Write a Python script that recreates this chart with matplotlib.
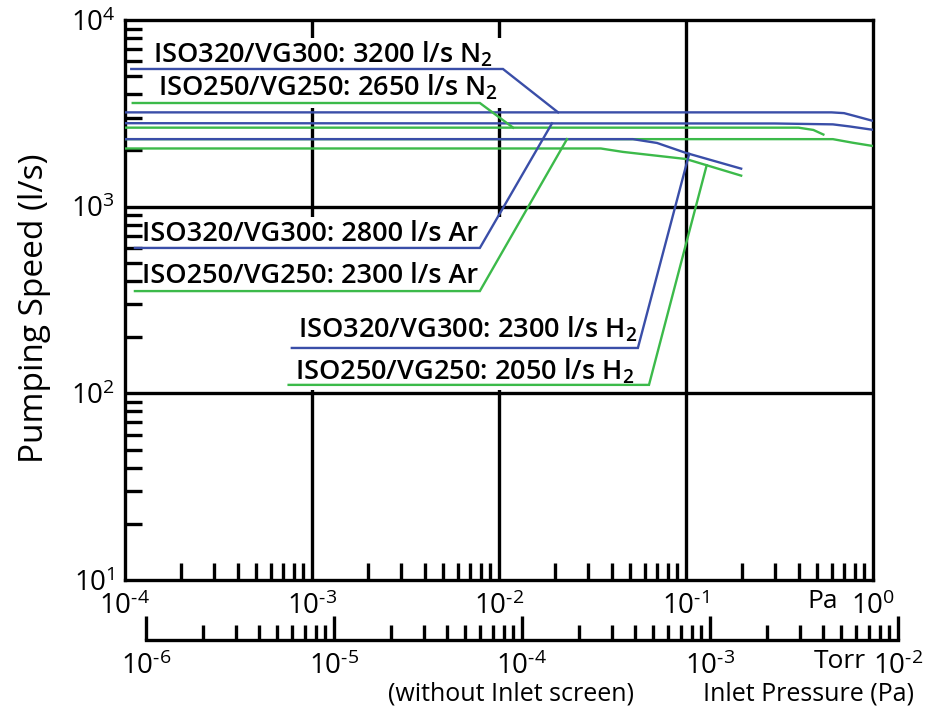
import numpy as np
import matplotlib
matplotlib.use('Agg')
import matplotlib.pyplot as plt
from matplotlib.patches import Rectangle

plt.rcParams['font.family'] = ['Open Sans', 'DejaVu Sans']
plt.rcParams['mathtext.fontset'] = 'custom'
plt.rcParams['mathtext.rm'] = 'Open Sans'
plt.rcParams['mathtext.it'] = 'Open Sans'
plt.rcParams['mathtext.bf'] = 'Open Sans:semibold'
plt.rcParams['mathtext.default'] = 'regular'

HY = '\u2010'

# ---------------- data ----------------
pa_ticks = [1e-4, 1e-3, 1e-2, 1e-1, 1e0]
pa_tick_labels = ['$10^{' + HY + '4}$', '$10^{' + HY + '3}$', '$10^{' + HY + '2}$',
                  '$10^{' + HY + '1}$', '$10^{0}$']
torr_ticks = [1e-6, 1e-5, 1e-4, 1e-3, 1e-2]
torr_tick_labels = ['$10^{' + HY + '6}$', '$10^{' + HY + '5}$', '$10^{' + HY + '4}$',
                    '$10^{' + HY + '3}$', '$10^{' + HY + '2}$']
speed_ticks = [1e1, 1e2, 1e3, 1e4]
speed_tick_labels = ['$10^{1}$', '$10^{2}$', '$10^{3}$', '$10^{4}$']

labels = ['ISO320/VG300: 3200 l/s N$_\\mathbf{2}$',
          'ISO250/VG250: 2650 l/s N$_\\mathbf{2}$',
          'ISO320/VG300: 2800 l/s Ar',
          'ISO250/VG250: 2300 l/s Ar',
          'ISO320/VG300: 2300 l/s H$_\\mathbf{2}$',
          'ISO250/VG250: 2050 l/s H$_\\mathbf{2}$']

p_n2_320 = [1e-4, 0.60, 0.70, 0.80, 1.0]
s_n2_320 = [3200, 3200, 3170, 3060, 2880]
p_n2_250 = [1e-4, 0.40, 0.48, 0.55]
s_n2_250 = [2650, 2650, 2576, 2420]
p_ar_320 = [1e-4, 0.30, 0.48, 0.61, 0.75, 1.0]
s_ar_320 = [2800, 2790, 2770, 2760, 2690, 2580]
p_ar_250 = [1e-4, 0.61, 0.78, 1.0]
s_ar_250 = [2300, 2300, 2200, 2113]
p_h2_320 = [1e-4, 0.052, 0.070, 0.10, 0.20]
s_h2_320 = [2300, 2300, 2194, 1940, 1592]
p_h2_250 = [1e-4, 0.035, 0.046, 0.10, 0.20]
s_h2_250 = [2050, 2050, 1965, 1800, 1460]

curves_p = [p_n2_320, p_n2_250, p_ar_320, p_ar_250, p_h2_320, p_h2_250]
curves_s = [s_n2_320, s_n2_250, s_ar_320, s_ar_250, s_h2_320, s_h2_250]

# ---------------- layout ----------------
blue = '#3a4ea8'
green = '#3cba4a'
colors = [blue, green, blue, green, blue, green]
text_pos = [(1.41e-4, 5888), (1.50e-4, 3963), (1.23e-4, 655),
            (1.23e-4, 390), (8.41e-4, 198), (8.1e-4, 118)]
lead_level = [5465, 3592, 601, 353, 175, 111]
lead_start = [1.08e-4, 1.10e-4, 1.13e-4, 1.13e-4, 7.8e-4, 7.5e-4]
lead_corner = [1.05e-2, 7.9e-3, 7.9e-3, 7.9e-3, 0.0553, 0.0634]
lead_join = [0.0207, 0.0119, 0.0192, 0.0231, 0.104, 0.129]
masks = [(1.2e-4, 0.0115, 3380, 8010), (1.1e-4, 0.0683, 104, 881)]

fig = plt.figure(figsize=(9.28, 7.09), dpi=100)
fig.patch.set_facecolor('white')
W, H = 928, 709
ax = fig.add_axes([125 / W, (H - 580) / H, 748 / W, 560 / H])
ax.set_xscale('log')
ax.set_yscale('log')
ax.set_xlim(pa_ticks[0], pa_ticks[-1])
ax.set_ylim(speed_ticks[0], speed_ticks[-1])
ax.set_axisbelow(False)

for p in pa_ticks[1:-1]:
    ax.axvline(p, color='black', lw=2.4, zorder=1)
for s in speed_ticks[1:-1]:
    ax.axhline(s, color='black', lw=2.4, zorder=2.2)

for (p0, p1, s0, s1) in masks:
    ax.add_patch(Rectangle((p0, s0), p1 - p0, s1 - s0, facecolor='white',
                           edgecolor='none', zorder=1.5))

for px, sx, c in zip(curves_p, curves_s, colors):
    ax.plot(px, sx, color=c, lw=1.7, zorder=3, solid_capstyle='butt')

for i in range(6):
    lp = np.log10(curves_p[i])
    ls = np.log10(curves_s[i])
    sj = 10 ** np.interp(np.log10(lead_join[i]), lp, ls)
    ax.plot([lead_start[i], lead_corner[i], lead_join[i]],
            [lead_level[i], lead_level[i], sj], color=colors[i], lw=1.7,
            zorder=3, solid_joinstyle='miter')
    ax.text(text_pos[i][0], text_pos[i][1], labels[i], fontsize=19.5,
            ha='left', va='baseline', color='black', zorder=2.6, fontweight='semibold')

for sp in ax.spines.values():
    sp.set_linewidth(2.4)
    sp.set_color('black')

ax.set_xticks(pa_ticks, pa_tick_labels)
ax.set_yticks(speed_ticks, speed_tick_labels)
ax.tick_params(axis='both', which='major', length=0, labelsize=20)
ax.tick_params(axis='x', which='major', pad=9)
ax.tick_params(axis='y', which='major', pad=7)
ax.tick_params(axis='both', which='minor', direction='in', length=12, width=2.4,
               color='black')
ax.xaxis.set_minor_formatter(matplotlib.ticker.NullFormatter())
ax.yaxis.set_minor_formatter(matplotlib.ticker.NullFormatter())
ax.xaxis.set_minor_locator(matplotlib.ticker.LogLocator(base=10, subs=np.arange(2, 10), numticks=20))
ax.yaxis.set_minor_locator(matplotlib.ticker.LogLocator(base=10, subs=np.arange(2, 10), numticks=20))

ax.text((823 - 125) / 748, (580 - 602) / 560, 'Pa', transform=ax.transAxes,
        ha='center', va='center', fontsize=19)

# Torr axis
ax2 = fig.add_axes([146 / W, (H - 640) / H, 752 / W, 0.0001])
ax2.set_xscale('log')
ax2.set_xlim(torr_ticks[0], torr_ticks[-1])
ax2.patch.set_visible(False)
for k in ['top', 'left', 'right']:
    ax2.spines[k].set_visible(False)
ax2.spines['bottom'].set_linewidth(2.4)
ax2.set_yticks([])
ax2.set_xticks(torr_ticks, torr_tick_labels)
ax2.xaxis.set_minor_locator(matplotlib.ticker.LogLocator(base=10, subs=np.arange(2, 10), numticks=20))
ax2.xaxis.set_minor_formatter(matplotlib.ticker.NullFormatter())
ax2.tick_params(axis='x', which='major', direction='in', length=17, width=2.4,
                labelsize=20, pad=9)
ax2.tick_params(axis='x', which='minor', direction='in', length=11, width=2.4)

fig.text(840 / W, 1 - 662 / H, 'Torr', ha='center', va='center', fontsize=19)
fig.text(511 / W, 1 - 694 / H, '(without Inlet screen)', ha='center', va='center', fontsize=18)
fig.text(809 / W, 1 - 694 / H, 'Inlet Pressure (Pa)', ha='center', va='center', fontsize=18)
fig.text(35 / W, 1 - 308 / H, 'Pumping Speed (l/s)', ha='center', va='center',
         rotation=90, fontsize=24)

fig.savefig('out.png', dpi=100, facecolor='white')
